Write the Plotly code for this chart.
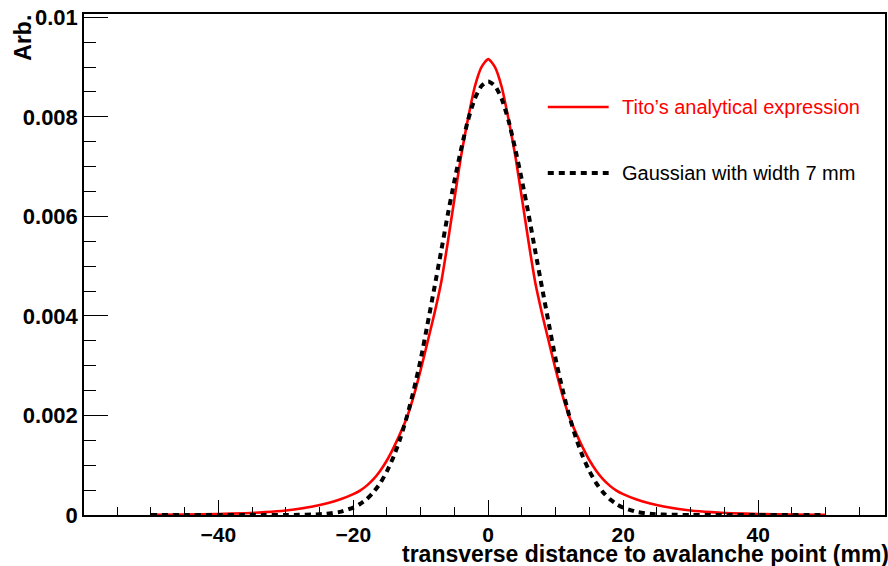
import plotly.graph_objects as go

# ---- data ----
x_pos = [0, 1, 2, 3, 4, 5, 6, 7, 8, 9, 10, 11, 12, 13, 14, 15, 16, 17, 18, 19, 20,
         22, 24, 26, 28, 30, 33, 36, 40, 45, 50]
tito_pos = [0.00916, 0.00900, 0.00860, 0.00796, 0.00723, 0.00636, 0.00547, 0.00465,
            0.00403, 0.00347, 0.00292, 0.00241, 0.00198, 0.00165, 0.00136, 0.00110,
            0.00089, 0.00072, 0.00059, 0.00049, 0.00042, 0.00031, 0.00023, 0.00017,
            0.000125, 0.000090, 0.000057, 0.000036, 0.000020, 0.000010, 0.000005]
gaus_pos = [0.00871, 0.00862, 0.00836, 0.00793, 0.00736, 0.00672, 0.00603, 0.00528,
            0.00455, 0.00383, 0.00313, 0.00253, 0.00200, 0.00155, 0.00118, 0.00088,
            0.00064, 0.00046, 0.00032, 0.00022, 0.00015, 0.000063, 0.000024, 0.000009,
            0.000003, 0.000001, 0.0, 0.0, 0.0, 0.0, 0.0]

x_vals = [-v for v in x_pos[::-1]] + x_pos[1:]
tito_vals = tito_pos[::-1] + tito_pos[1:]
gaus_vals = gaus_pos[::-1] + gaus_pos[1:]

x_ticks = [-40, -20, 0, 20, 40]
y_ticks = [0, 0.002, 0.004, 0.006, 0.008, 0.01]
y_tick_text = ["0", "0.002", "0.004", "0.006", "0.008", "0.01"]

legend_labels = ["Tito\u2019s analytical expression", "Gaussian with width 7 mm"]
x_title = "transverse distance to avalanche point (mm)"
y_title = "Arb."

FONT = "Liberation Sans, Arial, Helvetica, sans-serif"

fig = go.Figure()
fig.add_trace(go.Scatter(x=x_vals, y=tito_vals, mode="lines",
                         line=dict(color="#ff0000", width=2.6, shape="spline", smoothing=0.6),
                         name=legend_labels[0], showlegend=False))
fig.add_trace(go.Scatter(x=x_vals, y=gaus_vals, mode="lines",
                         line=dict(color="black", width=4, dash="6px,5px", shape="spline", smoothing=0.6),
                         name=legend_labels[1], showlegend=False))

# manual legend
fig.add_shape(type="line", xref="paper", yref="paper", x0=0.579, x1=0.655, y0=0.8144, y1=0.8144,
              line=dict(color="#ff0000", width=2.6))
fig.add_shape(type="line", xref="paper", yref="paper", x0=0.579, x1=0.655, y0=0.6826, y1=0.6826,
              line=dict(color="black", width=4, dash="6px,5px"))
fig.add_annotation(xref="paper", yref="paper", x=0.669, y=0.8144, xanchor="left", yanchor="middle",
                   text=legend_labels[0], showarrow=False,
                   font=dict(family=FONT, size=20, color="#ff0000"))
fig.add_annotation(xref="paper", yref="paper", x=0.669, y=0.6826, xanchor="left", yanchor="middle",
                   text=legend_labels[1], showarrow=False,
                   font=dict(family=FONT, size=20, color="black"))

# axis titles
fig.add_annotation(xref="paper", yref="paper", x=1.007, y=-0.077, xanchor="right", yanchor="middle",
                   text="<b>" + x_title + "</b>", showarrow=False,
                   font=dict(family=FONT, size=23, color="black"))
fig.add_annotation(xref="paper", yref="paper", x=-0.0766, y=0.952, xanchor="center", yanchor="middle",
                   text="<b>" + y_title + "</b>", showarrow=False, textangle=-90,
                   font=dict(family=FONT, size=23, color="black"))

fig.update_layout(
    width=888, height=566,
    margin=dict(l=84, r=1, t=14, b=51),
    paper_bgcolor="white", plot_bgcolor="white",
    font=dict(family=FONT, color="black"),
    showlegend=False,
    xaxis=dict(range=[-59.9, 58.8], tickvals=x_ticks, ticks="inside", ticklen=15, tickwidth=1.2,
               tickcolor="black", showgrid=False, zeroline=False, showline=True, linecolor="black",
               linewidth=1.5, mirror=True,
               tickfont=dict(family=FONT, size=21, color="black", weight="bold"),
               minor=dict(dtick=5, tick0=0, ticks="inside", ticklen=8, tickwidth=1.2, tickcolor="black",
                          showgrid=False)),
    yaxis=dict(range=[0, 0.010066], tickvals=y_ticks, ticktext=y_tick_text, ticks="inside",
               ticklen=24, tickwidth=1.2, tickcolor="black", showgrid=False, zeroline=False,
               showline=True, linecolor="black", linewidth=1.5, mirror=True,
               tickfont=dict(family=FONT, size=22, color="black", weight="bold"),
               minor=dict(dtick=0.0005, tick0=0, ticks="inside", ticklen=12, tickwidth=1.2,
                          tickcolor="black", showgrid=False)),
)

fig.write_html("out.html")
